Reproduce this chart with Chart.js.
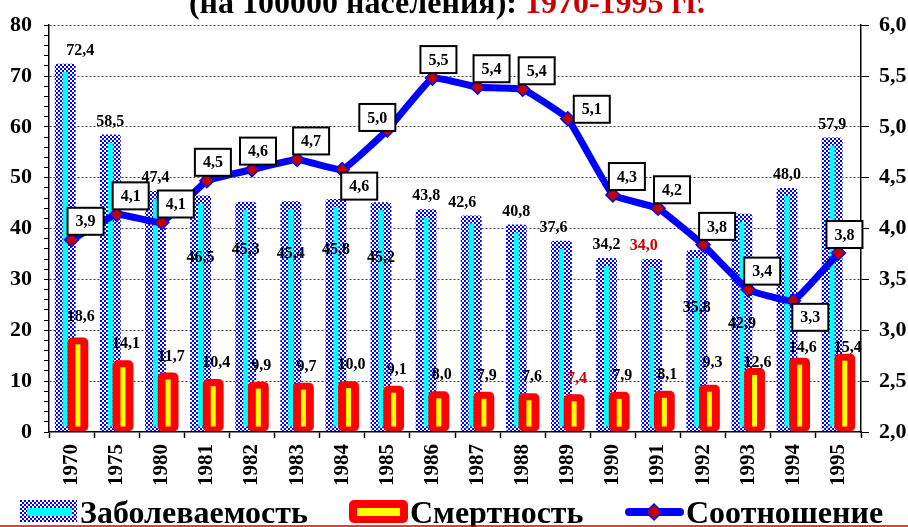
<!DOCTYPE html>
<html lang="ru">
<head>
<meta charset="UTF-8">
<title>Заболеваемость и смертность 1970-1995</title>
<script src="https://cdn.jsdelivr.net/npm/chart.js@4"></script>
<style>
    html, body { margin: 0; padding: 0; background: #fff; }
    #wrap { width: 908px; height: 527px; overflow: hidden; }
</style>
</head>
<body>
<div id="wrap"><canvas id="chart" width="908" height="527"></canvas></div>
<script>
// данные (на 100000 населения)
const years = ['1970', '1975', '1980', '1981', '1982', '1983', '1984', '1985', '1986',
               '1987', '1988', '1989', '1990', '1991', '1992', '1993', '1994', '1995'];
const incidence = [72.4, 58.5, 47.4, 46.5, 45.3, 45.4, 45.8, 45.2, 43.8,
                   42.6, 40.8, 37.6, 34.2, 34.0, 35.8, 42.9, 48.0, 57.9];
const mortality = [18.6, 14.1, 11.7, 10.4, 9.9, 9.7, 10.0, 9.1, 8.0,
                   7.9, 7.6, 7.4, 7.9, 8.1, 9.3, 12.6, 14.6, 15.4];
const ratio = [3.89, 4.14, 4.06, 4.47, 4.58, 4.68, 4.58, 4.97, 5.48,
               5.39, 5.37, 5.08, 4.33, 4.20, 3.84, 3.40, 3.29, 3.76];

const titleBlack = '(на 100000 населения): ';
const titleRed = '1970-1995 гг.';
const legendNames = ['Заболеваемость', 'Смертность', 'Соотношение'];

// где стоят подписи, которые в оригинале сдвинуты
const incLabelAt = { 3: 34.2, 4: 35.9, 5: 35.1, 6: 35.9, 7: 34.2, 14: 24.5, 15: 21.2 };
const incLabelDx = { 0: 15, 9: -9, 11: -8, 13: -8 };
const mortLabelAt = { 0: 22.7, 14: 13.6, 15: 13.6, 16: 16.5, 17: 16.5 };
const ratioBoxPos = ['ar', 'ar', 'ar', 'a', 'a', 'ar', 'br', 'l', 'a',
                     'ar', 'ar', 'r', 'ar', 'ar', 'ar', 'ar', 'br', 'a'];

const SERIF = '"Liberation Serif", "Times New Roman", serif';
const RED_TXT = '#cc0000';
const fmt = v => v.toFixed(1).replace('.', ',');

const canvas = document.getElementById('chart');
const ctx0 = canvas.getContext('2d');

function checker() {
    const c = document.createElement('canvas');
    c.width = 4; c.height = 4;
    const g = c.getContext('2d');
    g.fillStyle = '#ffffff'; g.fillRect(0, 0, 4, 4);
    g.fillStyle = '#0000ff'; g.fillRect(0, 0, 2, 2); g.fillRect(2, 2, 2, 2);
    return ctx0.createPattern(c, 'repeat');
}
const checkerFill = checker();

function label(ctx, text, x, y, color) {
    ctx.fillStyle = color || '#000';
    ctx.font = 'bold 16px ' + SERIF;
    ctx.textAlign = 'center';
    ctx.textBaseline = 'middle';
    ctx.fillText(text, x, y);
}

const drawPlugin = {
    id: 'customDraw',
    beforeDatasetsDraw(chart) {
        const ctx = chart.ctx;
        const yL = chart.scales.y;
        const incMeta = chart.getDatasetMeta(0);
        const mortMeta = chart.getDatasetMeta(1);
        const ratioMeta = chart.getDatasetMeta(2);
        const minInc = Math.min(...incidence);
        const minMort = Math.min(...mortality);

        ctx.save();
        // заболеваемость + голубая полоса
        incMeta.controller.draw();
        ctx.fillStyle = '#00ffff';
        incMeta.data.forEach(el => {
            const p = el.getProps(['x', 'y', 'base'], true);
            ctx.fillRect(p.x - 2.5, p.y + 8, 5, p.base - p.y - 13);
        });
        // смертность + жёлтая полоса
        mortMeta.controller.draw();
        ctx.fillStyle = '#ffff00';
        mortMeta.data.forEach(el => {
            const p = el.getProps(['x', 'y', 'base'], true);
            ctx.fillRect(p.x - 2.5, p.y + 7, 5, p.base - p.y - 12);
        });
        // соотношение
        ratioMeta.controller.draw();

        // подписи столбцов
        incMeta.data.forEach((el, i) => {
            const p = el.getProps(['x', 'y'], true);
            const y = incLabelAt[i] !== undefined ? yL.getPixelForValue(incLabelAt[i]) : p.y - 13;
            const x = p.x + (incLabelDx[i] || 0);
            label(ctx, fmt(incidence[i]), x, y, incidence[i] === minInc ? RED_TXT : '#000');
        });
        mortMeta.data.forEach((el, i) => {
            const p = el.getProps(['x', 'y'], true);
            const y = mortLabelAt[i] !== undefined ? yL.getPixelForValue(mortLabelAt[i]) : p.y - 16;
            label(ctx, fmt(mortality[i]), p.x + 3, y, mortality[i] === minMort ? RED_TXT : '#000');
        });

        // рамки с соотношением
        const bw = 36, bh = 27;
        ratioMeta.data.forEach((el, i) => {
            const p = el.getProps(['x', 'y'], true);
            let left, top;
            switch (ratioBoxPos[i]) {
                case 'a':  left = p.x - 12; top = p.y - 5 - bh; break;
                case 'br': left = p.x - 1;  top = p.y + 3; break;
                case 'l':  left = p.x - 28; top = p.y + 1 - bh; break;
                case 'r':  left = p.x + 6;  top = p.y + 4 - bh; break;
                default:   left = p.x - 4;  top = p.y - 5 - bh;
            }
            ctx.fillStyle = '#fff';
            ctx.fillRect(left, top, bw, bh);
            ctx.strokeStyle = '#000';
            ctx.lineWidth = 2;
            ctx.strokeRect(left, top, bw, bh);
            label(ctx, fmt(ratio[i]), left + bw / 2, top + bh / 2 + 1);
        });
        ctx.restore();
        return false;
    },
    afterDraw(chart) {
        const ctx = chart.ctx;
        ctx.save();
        // заголовок (обрезан сверху)
        ctx.font = 'bold 32px ' + SERIF;
        ctx.textBaseline = 'alphabetic';
        ctx.textAlign = 'left';
        const w1 = ctx.measureText(titleBlack).width;
        const w2 = ctx.measureText(titleRed).width;
        const tx = 447 - (w1 + w2) / 2;
        ctx.fillStyle = '#000';
        ctx.fillText(titleBlack, tx, 13);
        ctx.fillStyle = RED_TXT;
        ctx.fillText(titleRed, tx + w1, 13);

        // легенда
        ctx.fillStyle = checkerFill;
        ctx.fillRect(20, 500, 57, 22);
        ctx.fillStyle = '#00ffff';
        ctx.fillRect(27, 508, 45, 8);

        ctx.fillStyle = '#ff0000';
        ctx.beginPath();
        ctx.roundRect(349, 500, 59, 23, 5);
        ctx.fill();
        ctx.fillStyle = '#ffff00';
        ctx.fillRect(357, 508, 43, 8);

        ctx.strokeStyle = '#0000ff';
        ctx.lineWidth = 8;
        ctx.lineCap = 'round';
        ctx.beginPath();
        ctx.moveTo(629, 512);
        ctx.lineTo(680, 512);
        ctx.stroke();
        ctx.fillStyle = '#c00000';
        ctx.strokeStyle = '#0000ff';
        ctx.lineWidth = 1.5;
        ctx.beginPath();
        ctx.moveTo(654, 504); ctx.lineTo(662, 512); ctx.lineTo(654, 520); ctx.lineTo(646, 512);
        ctx.closePath();
        ctx.fill();
        ctx.stroke();

        ctx.font = 'bold 32px ' + SERIF;
        ctx.fillStyle = '#000';
        ctx.textBaseline = 'alphabetic';
        ctx.fillText(legendNames[0], 80, 523);
        ctx.fillText(legendNames[1], 410, 523);
        ctx.fillText(legendNames[2], 686, 523);

        // красная линия внизу
        ctx.strokeStyle = '#cc0000';
        ctx.lineWidth = 1.5;
        ctx.lineCap = 'butt';
        ctx.beginPath();
        ctx.moveTo(0, 526);
        ctx.lineTo(908, 526);
        ctx.stroke();
        ctx.restore();
    }
};

Chart.defaults.font.family = SERIF;
Chart.defaults.color = '#000';

new Chart(canvas, {
    data: {
        labels: years,
        datasets: [
            {
                type: 'bar',
                label: legendNames[0],
                data: incidence,
                yAxisID: 'y',
                backgroundColor: checkerFill,
                borderRadius: 3,
                borderSkipped: false,
                categoryPercentage: 0.56,
                barPercentage: 1.65
            },
            {
                type: 'bar',
                label: legendNames[1],
                data: mortality,
                yAxisID: 'y',
                backgroundColor: '#ff0000',
                borderRadius: 5,
                borderSkipped: false,
                categoryPercentage: 0.56,
                barPercentage: 1.65
            },
            {
                type: 'line',
                label: legendNames[2],
                data: ratio,
                yAxisID: 'y2',
                borderColor: '#0000ff',
                borderWidth: 7,
                tension: 0.1,
                pointStyle: 'rectRot',
                pointRadius: 7,
                pointBackgroundColor: '#c00000',
                pointBorderColor: '#0000ff',
                pointBorderWidth: 1.5
            }
        ]
    },
    options: {
        responsive: false,
        animation: false,
        events: [],
        layout: { padding: { top: 20 } },
        plugins: { legend: { display: false }, tooltip: { enabled: false } },
        scales: {
            x: {
                type: 'category',
                offset: true,
                grid: { offset: true, drawOnChartArea: false, tickLength: 6, tickColor: '#000', tickWidth: 1.5 },
                border: { color: '#000', width: 1.5, z: 1 },
                ticks: {
                    font: { size: 21, weight: 'bold' },
                    color: '#000',
                    minRotation: 90,
                    maxRotation: 90,
                    autoSkip: false,
                    padding: 6
                },
                afterFit: s => { s.height = 95; }
            },
            y: {
                position: 'left',
                min: 0,
                max: 80,
                ticks: {
                    stepSize: 2,
                    autoSkip: false,
                    font: { size: 22, weight: 'bold' },
                    color: '#000',
                    padding: 12,
                    callback: v => (v % 10 === 0 ? v : '')
                },
                grid: {
                    color: c => (c.tick && c.tick.value % 10 === 0 && c.tick.value !== 0) ? '#444' : 'rgba(0,0,0,0)',
                    lineWidth: 1,
                    tickColor: '#000',
                    tickLength: 5,
                    tickBorderDash: []
                },
                border: { color: '#000', width: 1.5, dash: [2, 2] },
                afterFit: s => { s.width = 49; }
            },
            y2: {
                position: 'right',
                min: 2,
                max: 6,
                ticks: {
                    stepSize: 0.5,
                    font: { size: 22, weight: 'bold' },
                    color: '#000',
                    padding: 10,
                    callback: v => fmt(v)
                },
                grid: { drawOnChartArea: false, tickLength: 8, tickColor: '#000' },
                border: { color: '#000', width: 1.5 },
                afterFit: s => { s.width = 47; }
            }
        }
    },
    plugins: [drawPlugin]
});
</script>
</body>
</html>
